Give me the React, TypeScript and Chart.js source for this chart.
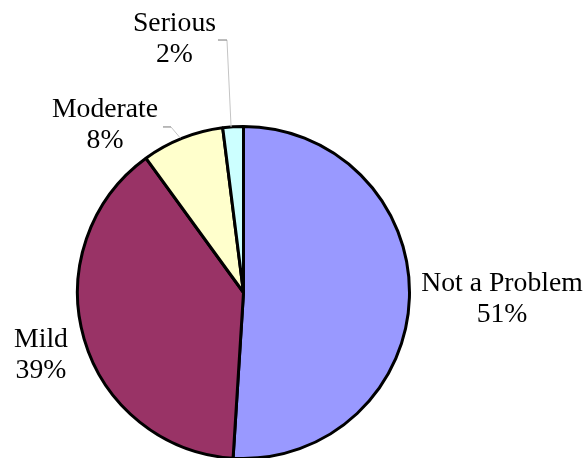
import React, { useEffect, useRef } from 'react';
import { Chart, registerables } from 'chart.js';

Chart.register(...registerables);

// dados da pizza
const categories = ['Not a Problem', 'Mild', 'Moderate', 'Serious'];
const shares = [51, 39, 8, 2];
const sliceColors = ['#9999FF', '#993366', '#FFFFCC', '#CCFFFF'];

// label placement relative to the slice's outer mid point (first baseline, text centre)
const labelPlacement = [
  { dx: 92.6, dy: -6.7 },
  { dx: -43.1, dy: 8.2 },
  { dx: -77.4, dy: -21.2, tick: { y: 10, x0: 58, x1: 66 } },
  { dx: -58.6, dy: -95.8, tick: { y: 9, x0: 43.5, x1: 52.5 } },
];

const FONT = '27.7px "Liberation Serif", "Times New Roman", serif';
const LINE_GAP = 31;

const sliceLabels = {
  id: 'sliceLabels',
  afterDatasetsDraw(chart: Chart) {
    const ctx = chart.ctx;
    const meta = chart.getDatasetMeta(0);
    ctx.save();
    meta.data.forEach((arc: any, i: number) => {
      const { x, y, startAngle, endAngle, outerRadius } = arc.getProps(
        ['x', 'y', 'startAngle', 'endAngle', 'outerRadius'],
        true
      );
      const mid = (startAngle + endAngle) / 2;
      const ox = x + Math.cos(mid) * outerRadius;
      const oy = y + Math.sin(mid) * outerRadius;
      const p = labelPlacement[i];
      const lx = ox + p.dx;
      const ly = oy + p.dy;

      if (p.tick) {
        // linha guia
        ctx.strokeStyle = '#c4c4c4';
        ctx.lineWidth = 1;
        ctx.beginPath();
        ctx.moveTo(ox - 2, oy);
        ctx.lineTo(lx + p.tick.x1, ly + p.tick.y);
        ctx.stroke();
        ctx.strokeStyle = '#777';
        ctx.beginPath();
        ctx.moveTo(lx + p.tick.x1, ly + p.tick.y);
        ctx.lineTo(lx + p.tick.x0, ly + p.tick.y);
        ctx.stroke();
      }

      ctx.fillStyle = '#000';
      ctx.font = FONT;
      ctx.textAlign = 'center';
      ctx.textBaseline = 'alphabetic';
      ctx.fillText(categories[i], lx, ly);
      ctx.fillText(`${shares[i]}%`, lx, ly + LINE_GAP);
    });
    ctx.restore();
  },
};

const App: React.FC = () => {
  const canvasRef = useRef<HTMLCanvasElement>(null);
  const chartRef = useRef<Chart | null>(null);

  useEffect(() => {
    document.body.style.margin = '0';
    if (!canvasRef.current) return;
    const ctx = canvasRef.current.getContext('2d');
    if (!ctx) return;

    chartRef.current = new Chart(ctx, {
      type: 'pie',
      data: {
        labels: categories,
        datasets: [
          {
            data: shares,
            backgroundColor: sliceColors,
            borderColor: '#000',
            borderWidth: 3,
            radius: 166,
            clip: false,
          } as any,
        ],
      },
      options: {
        responsive: false,
        animation: false,
        layout: { padding: { left: 0, right: 97, top: 127, bottom: 0 } },
        plugins: {
          legend: { display: false },
          tooltip: { enabled: false },
        },
      },
      plugins: [sliceLabels],
    });

    return () => {
      if (chartRef.current) {
        chartRef.current.destroy();
        chartRef.current = null;
      }
    };
  }, []);

  return (
    <div style={{ width: 584, height: 458, background: '#fff' }}>
      <canvas ref={canvasRef} width={584} height={458} />
    </div>
  );
};

export default App;
